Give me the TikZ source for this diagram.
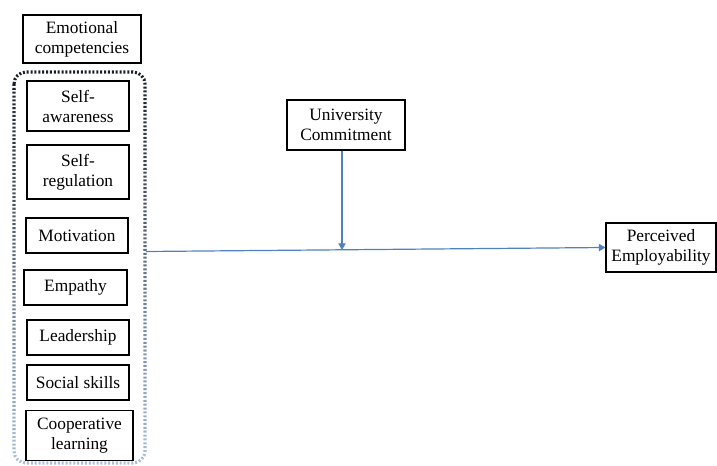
\documentclass[tikz,border=0pt]{standalone}
\usepackage{fontspec}
\setmainfont{Liberation Serif}
\usetikzlibrary{arrows.meta}
\definecolor{arrowblue}{HTML}{4F81BD}
\definecolor{dotdark}{HTML}{1A2029}
\definecolor{dotmid}{HTML}{68788F}
\definecolor{dotlight}{HTML}{B3C7E3}
\tikzset{
  box/.style={draw=black, line width=0.8pt, align=center, inner sep=1pt,
    font=\fontsize{13}{15}\selectfont},
  conn/.style={draw=arrowblue, line width=0.9pt, -{Triangle[width=5.5pt,length=5pt]}},
  dotbox/.style={line width=2.3pt, dash pattern=on 1.5pt off 1.4pt, rounded corners=9pt}
}
\begin{document}
\begin{tikzpicture}[x=0.75pt,y=-0.75pt]
\useasboundingbox (0,0) rectangle (717,466);
% dotted group frame with vertical colour fade
\foreach \i in {0,...,19}{
  \pgfmathsetmacro{\ya}{70+\i*20}
  \pgfmathsetmacro{\yb}{\ya+20}
  \pgfmathsetmacro{\pa}{ifthenelse(\i<10, 100-\i*10, 0)}
  \pgfmathsetmacro{\pb}{ifthenelse(\i<10, 0, 100-(\i-10)*10)}
  \begin{scope}
    \clip (0,\ya) rectangle (200,\yb);
    \ifnum\i<10
      \draw[dotbox, draw=dotdark!\pa!dotmid] (14,72) rectangle (145,463);
    \else
      \draw[dotbox, draw=dotmid!\pb!dotlight] (14,72) rectangle (145,463);
    \fi
  \end{scope}
}
\node[box, minimum width=118*0.75pt, minimum height=48*0.75pt] (emo) at (82,39) {Emotional\\competencies};
\node[box, minimum width=102*0.75pt, minimum height=50*0.75pt] (sa) at (78,106) {Self-\\awareness};
\node[box, minimum width=102*0.75pt, minimum height=54*0.75pt] (sr) at (78,172) {Self-\\regulation};
\node[box, minimum width=102*0.75pt, minimum height=35*0.75pt] (mot) at (77,235.5) {Motivation};
\node[box, minimum width=103*0.75pt, minimum height=35*0.75pt] (emp) at (75.5,287.5) {Empathy};
\node[box, minimum width=102*0.75pt, minimum height=35*0.75pt] (lead) at (78,337.5) {Leadership};
\node[box, minimum width=102*0.75pt, minimum height=35*0.75pt] (soc) at (78,382.5) {Social skills};
\node[box, minimum width=107*0.75pt, minimum height=50*0.75pt] (coop) at (79.5,435.5) {Cooperative\\learning};
\node[box, minimum width=118*0.75pt, minimum height=50*0.75pt] (uc) at (346,125) {University\\Commitment};
\node[box, minimum width=110*0.75pt, minimum height=49*0.75pt] (pe) at (661,247.5) {Perceived\\Employability};
\coordinate (grp) at (146,251.5);
\coordinate (meet) at (342,250);
\draw[conn] (grp) -- (pe.west);
\draw[conn] (uc.south -| meet) -- (meet);
\end{tikzpicture}
\end{document}
